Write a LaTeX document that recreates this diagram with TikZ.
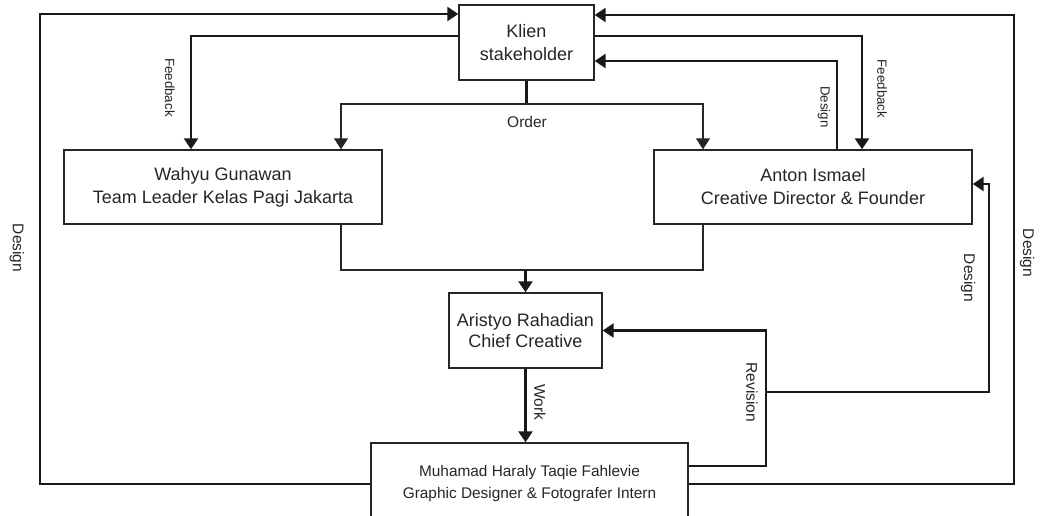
\documentclass[tikz,border=0pt]{standalone}
\usepackage{fontspec}
\setmainfont{Liberation Sans}
\usetikzlibrary{arrows.meta}
\begin{document}
\begin{tikzpicture}[x=1pt,y=-1pt,
  box/.style={draw=black!85,line width=1.4pt,rectangle,inner sep=0pt,align=center,text=black!85,
    font=\fontsize{18}{23}\selectfont},
  thk/.style={line width=2.5pt,black!90},
  thn/.style={line width=1.3pt,black!85},
  tip/.style={-{Triangle[length=11pt,width=14pt]}},
  lbl/.style={rotate=-90,text=black!85,inner sep=0pt},
  lblL/.style={lbl,font=\fontsize{15.5}{18}\selectfont},
  lblS/.style={lbl,font=\fontsize{13.3}{15}\selectfont}]
\useasboundingbox (0,0) rectangle (1042,516);
\clip (0,0) rectangle (1042,516);
\fill[white] (0,0) rectangle (1042,516);

\node[box,minimum width=135pt,minimum height=75pt] (klien) at (526.5,42.5) {Klien\\stakeholder};
\node[box,minimum width=318pt,minimum height=74pt] (wahyu) at (223,187) {Wahyu Gunawan\\Team Leader Kelas Pagi Jakarta};
\node[box,minimum width=318pt,minimum height=74pt] (anton) at (813,187) {Anton Ismael\\Creative Director \& Founder};
\node[box,minimum width=153pt,minimum height=75pt,font=\fontsize{18}{21.5}\selectfont] (aristyo) at (525.5,330.5) {Aristyo Rahadian\\Chief Creative};
\node[box,minimum width=317pt,minimum height=82pt,font=\fontsize{15.4}{22}\selectfont] (muhamad) at (529.5,484) {Muhamad Haraly Taqie Fahlevie\\Graphic Designer \& Fotografer Intern};

% Design (left outer loop)
\draw[thk,tip] (muhamad.west) -| (40,14) -- (klien.west |- 0,14);
\node[lblL] (ldesignL) at (17,248) {Design};

% Feedback left
\draw[thk,tip] (klien.west |- 0,36) -| (wahyu.north -| 191,0);
\node[lblS] (lfeedL) at (170,87.5) {Feedback};

% Order
\coordinate (ordj) at (klien.south |- 0,104);
\draw[thk] (klien.south) -- (ordj);
\draw[thn,tip] (ordj) -| (wahyu.north -| 341,0);
\draw[thn,tip] (ordj) -| (anton.north -| 703,0);
\node[text=black!85,inner sep=0pt,font=\fontsize{15.5}{18}\selectfont] (lorder) at (527,122) {Order};

% Feedback right
\draw[thk,tip] (klien.east |- 0,36) -| (anton.north -| 862,0);
\node[lblS] (lfeedR) at (882,89) {Feedback};

% Design from Anton to Klien
\draw[thk,tip] (anton.north -| 837,0) |- (klien.east |- 0,61);
\node[lblS] (ldesignA) at (824,107) {Design};

% Design (right outer loop)
\draw[thk,tip] (muhamad.east) -| (1014,15) -- (klien.east |- 0,15);
\node[lblL] (ldesignR) at (1027,253) {Design};

% Wahyu & Anton to Aristyo
\coordinate (mrg) at (aristyo.north |- 0,270);
\draw[thn] (wahyu.south -| 341,0) |- (mrg);
\draw[thn] (anton.south -| 703,0) |- (mrg);
\draw[thk,tip] (mrg) -- (aristyo.north);

% Work
\draw[thk,tip] (aristyo.south) -- (aristyo.south |- muhamad.north);
\node[lblL] (lwork) at (540,402.5) {Work};

% Revision
\draw[thk,tip] (muhamad.east |- 0,466) -| (aristyo.east -| 766,0) -- (aristyo.east);
\node[lblL] (lrev) at (752,392.5) {Revision};

% Design to Anton (right)
\coordinate (rj) at (766,392);
\draw[thk,tip] (rj) -| (989,184) -- (anton.east |- 0,184);
\node[lblL] (ldesignAR) at (968,278) {Design};
\end{tikzpicture}
\end{document}
